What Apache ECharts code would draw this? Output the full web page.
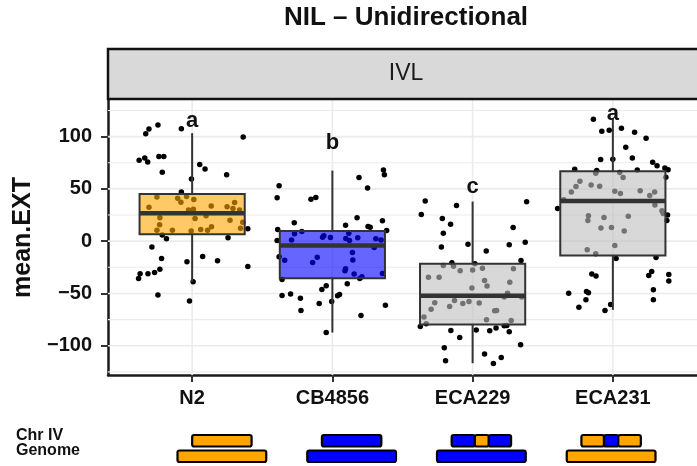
<!DOCTYPE html>
<html>
<head>
<meta charset="utf-8">
<script src="https://cdn.jsdelivr.net/npm/echarts@6/dist/echarts.min.js"></script>
<style>
  html, body { margin: 0; padding: 0; background: #fff; }
  #main { width: 697px; height: 466px; }
</style>
</head>
<body>
<div id="main"></div>
<script>
// strains on the x axis
var strains = ['N2', 'CB4856', 'ECA229', 'ECA231'];
// box stats: [lower whisker, Q1, median, Q3, upper whisker]
var boxStats = [
  [-38.9, 6.7, 26.8, 45.2, 103.3],
  [-87.4, -35.4, -4.2, 9.8, 67.5],
  [-116.7, -79.7, -52.3, -21.7, 37.9],
  [-65.7, -13.8, 38.5, 66.9, 117]
];
var sigLetters = ['a', 'b', 'c', 'a'];
var letterY = [115.3, 93.7, 52.2, 121.7];

var yTicks = [-100, -50, 0, 50, 100];
var yMinor = [-125, -75, -25, 25, 75, 125];

// jittered points: [x offset from strain, mean.EXT]
var ptsN2 = [
  [-0.244,111.1],[-0.308,107.3],[-0.331,102.8],[-0.077,107.6],[0.364,99.7],[-0.378,77.4],[-0.338,79.6],
  [-0.317,75.8],[-0.237,80.9],[-0.202,80.9],[-0.213,65.9],[0.054,73.2],[0.092,69.1],[0.246,63.4],
  [-0.005,59.5],[-0.077,47.1],[-0.251,42.3],[-0.103,41.1],[-0.04,42.6],[0.012,39.8],[-0.08,37.3],
  [-0.308,32.5],[0.136,33.7],[0.249,32.8],[0.303,36.9],[0.291,31.2],[0.338,29.9],[-0.026,29.9],
  [0.009,30.6],[-0.23,22.3],[0.021,21.6],[0.099,24.2],[0.27,20.1],[0.361,18.2],[-0.232,15.6],
  [-0.251,10.5],[-0.141,10.5],[-0.007,9.8],[0.061,11.1],[0.11,10.5],[0.138,13.7],[0.345,12.4],
  [0.397,11.8],[-0.213,6.0],[-0.183,2.2],[0.256,3.2],[-0.287,-5.7],[-0.218,-16.6],[0.075,-14.7],
  [-0.037,-19.8],[0.181,-18.8],[0.397,-24.3],[-0.23,-26.8],[-0.268,-30.0],[-0.315,-31.2],[-0.371,-31.2],
  [-0.382,-35.7],[0.007,-38.9],[-0.244,-51.6],[-0.019,-57.3]
];
var ptsCB4856 = [
  [0.364,68.1],[0.371,63.4],[0.19,60.8],[0.251,50.9],[-0.38,53.1],[-0.394,41.4],[-0.153,40.1],
  [-0.118,41.7],[-0.272,17.5],[0.176,22.3],[0.094,15.3],[0.254,14.0],[0.27,13.4],[0.357,19.4],
  [-0.39,11.1],[0.387,10.1],[-0.218,9.2],[-0.27,7.0],[-0.061,5.1],[-0.07,3.8],[-0.014,3.4],
  [0.117,7.6],[0.096,2.5],[0.122,0.6],[0.181,3.2],[0.31,2.2],[0.347,1.2],[-0.291,1.2],
  [-0.394,0.6],[0.298,-6.1],[-0.38,-15.0],[-0.34,-18.2],[-0.108,-15.3],[-0.141,-20.4],[0.143,-10.9],
  [0.146,-17.9],[0.094,-26.5],[0.09,-28.4],[0.155,-31.5],[0.211,-34.1],[0.195,-35.7],[0.357,-31.0],
  [-0.359,-36.7],[0.106,-40.8],[-0.044,-42.7],[-0.075,-46.2],[0.051,-51.0],[0.037,-52.3],[-0.359,-52.0],
  [-0.298,-50.6],[-0.228,-54.5],[-0.005,-57.7],[-0.094,-59.6],[0.378,-61.2],[-0.224,-66.3],[0.204,-71.1],
  [-0.044,-87.3]
];
var ptsECA229 = [
  [-0.338,38.5],[-0.366,25.4],[-0.115,34.0],[-0.216,21.6],[-0.157,16.2],[-0.209,7.6],[-0.223,-5.7],
  [-0.033,-2.9],[0.097,-9.3],[0.385,37.8],[0.289,13.0],[0.375,-1.0],[0.261,-3.5],[0.345,-18.5],
  [-0.209,-23.3],[-0.148,-20.7],[-0.136,-23.9],[-0.089,-28.4],[0,-27.7],[0.016,-21.7],[0.07,-25.8],
  [0.291,-26.5],[-0.315,-34.4],[-0.239,-34.4],[0.085,-37.6],[0.103,-43.0],[0.265,-39.2],[-0.005,-44.9],
  [0.249,-49.7],[0.225,-53.5],[0.35,-53.5],[-0.129,-56.8],[-0.07,-59.6],[-0.026,-57.7],[0.047,-59.2],
  [-0.27,-59.0],[-0.164,-62.5],[-0.296,-65.0],[0.157,-66.6],[0.171,-66.3],[-0.347,-72.6],[0.099,-75.2],
  [0.275,-75.9],[-0.331,-79.0],[-0.373,-81.6],[0.225,-80.9],[0.244,-80.6],[0.167,-83.1],[0.122,-85.7],
  [0.026,-85.0],[-0.155,-85.4],[0.261,-86.7],[-0.092,-92.1],[0.342,-99.1],[-0.202,-102.0],[0.085,-108.0],
  [0.204,-111.2],[-0.193,-114.4],[0.148,-117.0]
];
var ptsECA231 = [
  [-0.139,116.6],[-0.079,105.1],[-0.026,106.1],[0.061,108.0],[0.155,104.2],[0.237,98.4],[0.092,89.8],
  [0.139,79.6],[-0.087,78.0],[0,78.4],[0.284,75.5],[0.315,72.2],[0.371,70.0],[0.394,68.4],
  [-0.272,68.8],[-0.115,67.5],[0.174,68.1],[-0.122,65.0],[0.049,65.6],[0.073,60.8],[0.378,61.2],
  [-0.235,57.3],[-0.155,53.8],[-0.094,52.6],[-0.263,52.2],[-0.296,47.1],[0.014,47.8],[0.054,45.5],
  [0.195,48.1],[0.298,47.1],[0.263,43.6],[-0.35,39.5],[0.3,34.7],[-0.394,31.2],[0.35,29.0],
  [0.359,26.4],[0.39,25.1],[0.385,19.7],[-0.174,24.2],[-0.178,19.7],[-0.063,22.6],[0.11,23.9],
  [-0.085,12.7],[-0.01,13.0],[0.081,9.8],[0.014,-4.2],[-0.183,-8.3],[-0.122,-12.1],[0.023,-16.6],
  [0.308,-15.7],[-0.15,-31.5],[-0.12,-33.4],[0.277,-29.0],[0.256,-32.9],[0.399,-31.9],[0.399,-38.2],
  [-0.315,-49.7],[-0.188,-48.2],[-0.174,-49.4],[0.289,-46.5],[0.289,-56.1],[-0.192,-56.1],[-0.242,-63.1],
  [-0.016,-60.6],[-0.056,-66.3]
];

// genotype diagram: [strain index, fraction start, fraction end, genotype]
var trackNames = ['Chr IV', 'Genome'];
var chrSegments = [
  [0, 0, 1, 'N2'],
  [1, 0, 1, 'CB4856'],
  [2, 0, 0.39, 'CB4856'], [2, 0.39, 0.625, 'N2'], [2, 0.625, 1, 'CB4856'],
  [3, 0, 0.38, 'N2'], [3, 0.38, 0.62, 'CB4856'], [3, 0.62, 1, 'N2']
];
var genomeBackground = ['N2', 'CB4856', 'CB4856', 'N2'];

var boxFills = ['rgba(255,165,0,0.6)', 'rgba(0,0,255,0.6)', 'rgba(190,190,190,0.6)', 'rgba(190,190,190,0.6)'];
var genoColors = { N2: '#FFA500', CB4856: '#0000FF' };
var FONT = '"Liberation Sans", Arial, sans-serif';

var allPts = [ptsN2, ptsCB4856, ptsECA229, ptsECA231];
var scatterData = [];
allPts.forEach(function (arr, i) {
  arr.forEach(function (p) { scatterData.push([i + 1 + p[0], p[1]]); });
});

var diagramData = [];
genomeBackground.forEach(function (g, i) { diagramData.push([i + 1, 1, 0, 1, g]); });
chrSegments.forEach(function (s) { diagramData.push([s[0] + 1, 0, s[1], s[2], s[3]]); });

var myChart = echarts.init(document.getElementById('main'));

var option = {
  backgroundColor: '#fff',
  animation: false,
  grid: [
    { left: 108, top: 100, width: 596, height: 275 },
    { left: 157, top: 433, width: 519, height: 31 }
  ],
  xAxis: [{
    type: 'value', gridIndex: 0, min: 0.4, max: 4.6,
    axisLine: { show: true, onZero: false, lineStyle: { color: '#1a1a1a', width: 2.5 } },
    axisTick: { show: true, customValues: [1, 2, 3, 4], length: 7, lineStyle: { color: '#333', width: 2 } },
    axisLabel: {
      customValues: [1, 2, 3, 4], margin: 13,
      formatter: function (v) { return strains[Math.round(v) - 1]; },
      fontSize: 20, fontWeight: 'bold', color: '#111', fontFamily: FONT
    },
    splitLine: { show: false }
  }, {
    type: 'value', gridIndex: 1, min: 0.5, max: 4.5, show: false
  }],
  yAxis: [{
    type: 'value', gridIndex: 0, min: -128, max: 135,
    name: 'mean.EXT', nameLocation: 'middle', nameGap: 66,
    nameTextStyle: { fontSize: 25, fontWeight: 'bold', color: '#111', fontFamily: FONT },
    axisLine: { show: true, lineStyle: { color: '#1a1a1a', width: 2.5 } },
    axisTick: { show: true, customValues: yTicks, length: 7, lineStyle: { color: '#333', width: 2 } },
    axisLabel: {
      customValues: yTicks, margin: 16,
      formatter: function (v) { return v < 0 ? '\u2212' + (-v) : String(v); },
      fontSize: 20, fontWeight: 'bold', color: '#111', fontFamily: FONT
    },
    splitLine: { show: false }
  }, {
    type: 'category', gridIndex: 1, data: trackNames, inverse: true, show: false
  }],
  graphic: [
    { type: 'text', x: 406, y: 18,
      style: { text: 'NIL \u2013 Unidirectional', font: 'bold 26px ' + FONT, fill: '#111', align: 'center', verticalAlign: 'middle' } },
    { type: 'rect', shape: { x: 108, y: 49, width: 600, height: 50 }, z: 10,
      style: { fill: '#D9D9D9', stroke: '#111', lineWidth: 2.5 } },
    { type: 'text', x: 406, y: 74, z: 11,
      style: { text: 'IVL', font: '23px ' + FONT, fill: '#1a1a1a', align: 'center', verticalAlign: 'middle' } },
    { type: 'text', x: 16, y: 436,
      style: { text: trackNames[0], font: 'bold 16px ' + FONT, fill: '#111', align: 'left', verticalAlign: 'middle' } },
    { type: 'text', x: 16, y: 451,
      style: { text: trackNames[1], font: 'bold 16px ' + FONT, fill: '#111', align: 'left', verticalAlign: 'middle' } }
  ],
  series: [
    {
      // horizontal grid lines
      type: 'custom', xAxisIndex: 0, yAxisIndex: 0, z: 1, silent: true,
      data: yTicks.map(function (v) { return [0.4, v, 1]; }).concat(yMinor.map(function (v) { return [0.4, v, 0]; })),
      renderItem: function (params, api) {
        var a = api.coord([0.4, api.value(1)]);
        var b = api.coord([4.6, api.value(1)]);
        return { type: 'line', shape: { x1: a[0], y1: a[1], x2: b[0], y2: b[1] },
          style: { stroke: '#EBEBEB', lineWidth: api.value(2) ? 1.6 : 1.1 } };
      }
    },
    {
      // vertical grid lines
      type: 'custom', xAxisIndex: 0, yAxisIndex: 0, z: 1, silent: true,
      data: strains.map(function (s, i) { return [i + 1, 0]; }),
      renderItem: function (params, api) {
        var a = api.coord([api.value(0), 135]);
        var b = api.coord([api.value(0), -128]);
        return { type: 'line', shape: { x1: a[0], y1: a[1], x2: b[0], y2: b[1] },
          style: { stroke: '#EBEBEB', lineWidth: 1.6 } };
      }
    },
    {
      type: 'scatter', xAxisIndex: 0, yAxisIndex: 0, z: 2, silent: true,
      symbolSize: 5.5, itemStyle: { color: '#000', opacity: 1 },
      data: scatterData
    },
    {
      type: 'custom', xAxisIndex: 0, yAxisIndex: 0, z: 3, silent: true,
      data: boxStats.map(function (s, i) { return [i + 1].concat(s); }),
      encode: { x: 0, y: [1, 2, 3, 4, 5] },
      renderItem: function (params, api) {
        var x = api.value(0);
        var lo = api.coord([x, api.value(1)]);
        var q1 = api.coord([x, api.value(2)]);
        var med = api.value(3);
        var q3 = api.coord([x, api.value(4)]);
        var hi = api.coord([x, api.value(5)]);
        var tl = api.coord([x - 0.375, api.value(4)]);
        var br = api.coord([x + 0.375, api.value(2)]);
        var ml = api.coord([x - 0.375, med]);
        var mr = api.coord([x + 0.375, med]);
        var st = { stroke: '#333', lineWidth: 2 };
        return { type: 'group', children: [
          { type: 'line', shape: { x1: hi[0], y1: hi[1], x2: q3[0], y2: q3[1] }, style: st },
          { type: 'line', shape: { x1: lo[0], y1: lo[1], x2: q1[0], y2: q1[1] }, style: st },
          { type: 'rect', shape: { x: tl[0], y: tl[1], width: br[0] - tl[0], height: br[1] - tl[1] },
            style: { fill: boxFills[params.dataIndex], stroke: '#333', lineWidth: 2 } },
          { type: 'line', shape: { x1: ml[0], y1: ml[1], x2: mr[0], y2: mr[1] }, style: { stroke: '#333', lineWidth: 4.5 } }
        ] };
      }
    },
    {
      // significance letters
      type: 'custom', xAxisIndex: 0, yAxisIndex: 0, z: 4, silent: true,
      data: letterY.map(function (v, i) { return [i + 1, v]; }),
      renderItem: function (params, api) {
        var p = api.coord([api.value(0), api.value(1)]);
        return { type: 'text', x: p[0], y: p[1],
          style: { text: sigLetters[params.dataIndex], font: 'bold 22px ' + FONT, fill: '#111',
            align: 'center', verticalAlign: 'middle' } };
      }
    },
    {
      // genotype diagram
      type: 'custom', xAxisIndex: 1, yAxisIndex: 1, z: 3, silent: true,
      data: diagramData,
      renderItem: function (params, api) {
        var s = api.value(0), track = api.value(1);
        var hw = track === 0 ? 0.229 : 0.342;
        var x0 = s - hw + api.value(2) * 2 * hw;
        var x1 = s - hw + api.value(3) * 2 * hw;
        var a = api.coord([x0, track]);
        var b = api.coord([x1, track]);
        var h = api.size([0, 1])[1] * 0.74;
        return { type: 'rect', shape: { x: a[0], y: a[1] - h / 2, width: b[0] - a[0], height: h, r: 2 },
          style: { fill: genoColors[diagramData[params.dataIndex][4]], stroke: '#000', lineWidth: 2.2 } };
      }
    }
  ]
};

myChart.setOption(option);
</script>
</body>
</html>
